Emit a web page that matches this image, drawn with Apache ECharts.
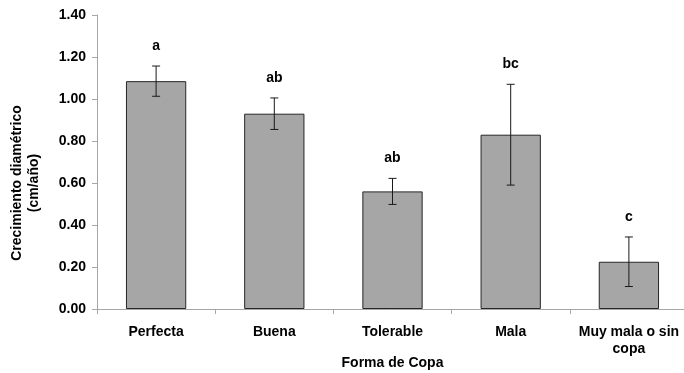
<!DOCTYPE html>
<html>
<head>
<meta charset="utf-8">
<script src="https://cdn.jsdelivr.net/npm/echarts@6/dist/echarts.min.js"></script>
<style>
  html, body { margin: 0; padding: 0; background: #fff; }
  #chart { width: 684px; height: 373px; }
</style>
</head>
<body>
<div id="chart"></div>
<script>
// Crecimiento diamétrico por forma de copa (media ± error)
const categories = ['Perfecta', 'Buena', 'Tolerable', 'Mala', 'Muy mala o sin\ncopa'];
const means = [1.085, 0.93, 0.56, 0.83, 0.225];
const errors = [0.072, 0.075, 0.062, 0.24, 0.118];
const groupLetters = ['a', 'ab', 'ab', 'bc', 'c'];
const yTicks = { min: 0, max: 1.4, interval: 0.2 };

const FONT = '"Liberation Sans", Arial, sans-serif';
const AXIS_GRAY = '#a6a6a6';

const errorData = means.map((m, i) => [i, m - errors[i], m + errors[i]]);

function renderErrorBar(params, api) {
  const idx = api.value(0);
  const lo = api.coord([idx, api.value(1)]);
  const hi = api.coord([idx, api.value(2)]);
  const cap = 4;
  const stroke = { stroke: '#1a1a1a', lineWidth: 1 };
  return {
    type: 'group',
    children: [
      { type: 'line', shape: { x1: lo[0], y1: lo[1], x2: hi[0], y2: hi[1] }, style: stroke },
      { type: 'line', shape: { x1: hi[0] - cap, y1: hi[1], x2: hi[0] + cap, y2: hi[1] }, style: stroke },
      { type: 'line', shape: { x1: lo[0] - cap, y1: lo[1], x2: lo[0] + cap, y2: lo[1] }, style: stroke },
      {
        type: 'text',
        x: hi[0],
        y: hi[1] - 20,
        style: {
          text: groupLetters[params.dataIndex],
          align: 'center',
          verticalAlign: 'middle',
          font: 'bold 14px ' + FONT,
          fill: '#000'
        }
      }
    ]
  };
}

const chart = echarts.init(document.getElementById('chart'), null, { renderer: 'canvas' });
chart.setOption({
  animation: false,
  backgroundColor: '#fff',
  grid: {
    left: 97, top: 15, width: 591, bottom: 64,
    containLabel: false,
    outerBoundsMode: 'none'
  },
  xAxis: {
    type: 'category',
    data: categories,
    name: 'Forma de Copa',
    nameLocation: 'middle',
    nameGap: 47,
    nameMoveOverlap: false,
    nameTextStyle: { fontFamily: FONT, fontWeight: 'bold', fontSize: 14, color: '#000' },
    axisLine: { lineStyle: { color: AXIS_GRAY, width: 1 } },
    axisTick: { show: true, length: 5, interval: 0, lineStyle: { color: AXIS_GRAY } },
    axisLabel: {
      interval: 0,
      margin: 15,
      fontFamily: FONT,
      fontWeight: 'bold',
      fontSize: 14,
      lineHeight: 17,
      color: '#000'
    }
  },
  yAxis: {
    type: 'value',
    min: yTicks.min,
    max: yTicks.max,
    interval: yTicks.interval,
    axisLine: { show: true, lineStyle: { color: AXIS_GRAY, width: 1 } },
    axisTick: { show: true, length: 5, lineStyle: { color: AXIS_GRAY } },
    splitLine: { show: false },
    axisLabel: {
      margin: 11,
      fontFamily: FONT,
      fontWeight: 'bold',
      fontSize: 14,
      color: '#000',
      formatter: v => v.toFixed(2)
    }
  },
  graphic: [{
    type: 'text',
    x: 26,
    y: 183,
    rotation: Math.PI / 2,
    style: {
      text: 'Crecimiento diamétrico\n(cm/año)',
      align: 'center',
      verticalAlign: 'middle',
      lineHeight: 17,
      font: 'bold 14px ' + FONT,
      fill: '#000'
    }
  }],
  series: [
    {
      type: 'bar',
      data: means,
      barWidth: '51%',
      itemStyle: { color: '#a6a6a6', borderColor: '#262626', borderWidth: 1 }
    },
    {
      type: 'custom',
      data: errorData,
      renderItem: renderErrorBar,
      encode: { x: 0, y: [1, 2] },
      z: 5
    }
  ]
});
</script>
</body>
</html>
